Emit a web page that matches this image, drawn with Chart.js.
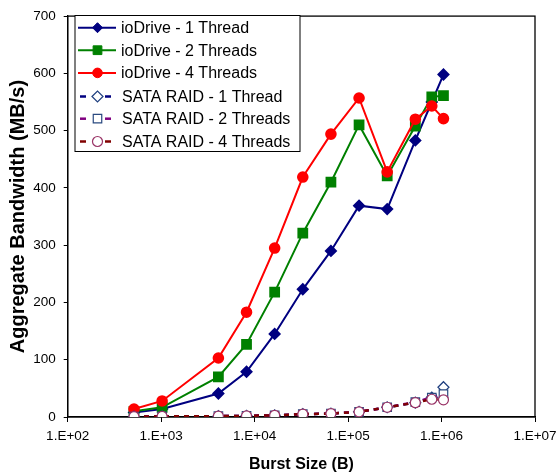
<!DOCTYPE html>
<html>
<head>
<meta charset="utf-8">
<script src="https://cdn.jsdelivr.net/npm/chart.js@4.4.0/dist/chart.umd.min.js"></script>
<style>
html,body{margin:0;padding:0;background:#fff;}
#wrap{width:556px;height:474px;position:relative;}
</style>
</head>
<body>
<div id="wrap"><canvas id="c" width="556" height="474"></canvas></div>
<script>
const burstSizes = [512, 1024, 4096, 8192, 16384, 32768, 65536, 131072, 262144, 524288, 786432, 1048576];
const ioDrive1 = [8, 14, 41, 79, 145, 223, 290, 369, 363, 483, 550, 598];
const ioDrive2 = [10, 17, 70, 127, 218, 321, 410, 510, 421, 508, 559, 561];
const ioDrive4 = [14, 28, 103, 183, 295, 419, 494, 557, 428, 520, 543, 521];
const sata1 = [0.5, 1, 1.5, 2, 3, 5, 6, 9, 17, 25, 34, 52];
const sata2 = [0.5, 1, 1.5, 2, 3, 5, 6, 9, 17, 26, 34, 40];
const sata4 = [0.5, 1, 1.5, 2, 3, 5, 6, 9, 17, 25, 31, 30];
const seriesLabels = ['ioDrive - 1 Thread','ioDrive - 2 Threads','ioDrive - 4 Threads','SATA RAID - 1 Thread','SATA RAID - 2 Threads','SATA RAID - 4 Threads'];
const xTickValues = [1e2, 1e3, 1e4, 1e5, 1e6, 1e7];
const yTickValues = [0, 100, 200, 300, 400, 500, 600, 700];

const FONT = "'Liberation Sans', Arial, sans-serif";
const pts = arr => arr.map((v, i) => ({x: burstSizes[i], y: v}));

const datasets = [
  {label: seriesLabels[0], data: pts(ioDrive1), borderColor:'#000080', backgroundColor:'#000080', pointStyle:'rectRot', pointRadius:5, pointBorderColor:'#000080', pointBackgroundColor:'#000080', borderWidth:2, order:6},
  {label: seriesLabels[1], data: pts(ioDrive2), borderColor:'#008000', backgroundColor:'#008000', pointStyle:'rect', pointRadius:6.2, pointBorderColor:'#008000', pointBackgroundColor:'#008000', borderWidth:2, order:5},
  {label: seriesLabels[2], data: pts(ioDrive4), borderColor:'#ff0000', backgroundColor:'#ff0000', pointStyle:'circle', pointRadius:4.8, pointBorderColor:'#ff0000', pointBackgroundColor:'#ff0000', borderWidth:2, order:4},
  {label: seriesLabels[3], data: pts(sata1), borderColor:'#000080', backgroundColor:'#ffffff', pointStyle:'rectRot', pointRadius:5.5, pointBorderColor:'#1f3f7f', pointBackgroundColor:'#ffffff', pointBorderWidth:1.2, borderWidth:2.5, borderDash:[5,5], order:3},
  {label: seriesLabels[4], data: pts(sata2), borderColor:'#800080', backgroundColor:'#ffffff', pointStyle:'rect', pointRadius:6, pointBorderColor:'#2a4a80', pointBackgroundColor:'#ffffff', pointBorderWidth:1.2, borderWidth:2.5, borderDash:[5,5], order:2},
  {label: seriesLabels[5], data: pts(sata4), borderColor:'#800000', backgroundColor:'#ffffff', pointStyle:'circle', pointRadius:5, pointBorderColor:'#993366', pointBackgroundColor:'#ffffff', pointBorderWidth:1.2, borderWidth:2.5, borderDash:[5,5], order:1}
];
datasets.forEach(d => { d.tension = 0; d.fill = false; d.pointHoverRadius = d.pointRadius; });

const frame = {
  id: 'frame',
  beforeDatasetsDraw(chart) {
    const {ctx, chartArea: a} = chart;
    ctx.save();
    ctx.strokeStyle = '#000';
    ctx.lineWidth = 1.3;
    ctx.strokeRect(a.left, a.top, a.right - a.left, a.bottom - a.top);
    ctx.restore();
  }
};

const legendBox = {
  id: 'legendBox',
  afterDraw(chart) {
    const ctx = chart.ctx;
    const L = 75, T = 15.5, R = 300, B = 151.5;
    ctx.save();
    ctx.fillStyle = '#fff';
    ctx.fillRect(L, T, R - L, B - T);
    ctx.strokeStyle = '#000';
    ctx.lineWidth = 1;
    ctx.strokeRect(L, T, R - L, B - T);
    const rowY = [27.7, 50.2, 72.9, 96.5, 118.7, 141.5];
    chart.data.datasets.forEach((ds, i) => {
      const y = rowY[i];
      ctx.save();
      ctx.strokeStyle = ds.borderColor;
      ctx.lineWidth = ds.borderWidth;
      if (ds.borderDash) {
        ctx.beginPath(); ctx.moveTo(80, y); ctx.lineTo(86, y); ctx.stroke();
        ctx.beginPath(); ctx.moveTo(105, y); ctx.lineTo(111, y); ctx.stroke();
      } else {
        ctx.beginPath(); ctx.moveTo(78, y); ctx.lineTo(116, y); ctx.stroke();
      }
      ctx.restore();
      ctx.save();
      ctx.fillStyle = ds.pointBackgroundColor;
      ctx.strokeStyle = ds.pointBorderColor;
      ctx.lineWidth = ds.pointBorderWidth || 1;
      Chart.helpers.drawPoint(ctx, {pointStyle: ds.pointStyle, rotation: 0, radius: ds.pointRadius, borderWidth: ctx.lineWidth}, 97.5, y);
      ctx.restore();
      ctx.fillStyle = '#000';
      ctx.font = '16px ' + FONT;
      ctx.textBaseline = 'middle';
      ctx.textAlign = 'left';
      ctx.fillText(ds.label, ds.borderDash ? 122 : 121, y + 1);
    });
    ctx.restore();
  }
};

new Chart(document.getElementById('c'), {
  type: 'line',
  data: {datasets},
  options: {
    responsive: false,
    animation: false,
    devicePixelRatio: 1,
    layout: {padding: {left: 0, right: 0, top: 12, bottom: 0}},
    plugins: {legend: {display: false}, tooltip: {enabled: false}},
    scales: {
      x: {
        type: 'logarithmic',
        min: 1e2, max: 1e7,
        afterBuildTicks: s => { s.ticks = xTickValues.map(v => ({value: v})); },
        afterFit: s => { s.height = 57; s.paddingRight = 21; s.paddingLeft = 0; },
        ticks: {
          autoSkip: false, maxRotation: 0, padding: 6, color: '#000',
          font: {family: FONT, size: 13.5},
          callback: v => '1.E+' + String(Math.round(Math.log10(v))).padStart(2, '0')
        },
        grid: {drawOnChartArea: false, drawTicks: true, tickLength: 5, color: '#000', lineWidth: 1},
        border: {display: true, color: '#000', width: 1.3},
        title: {display: true, text: 'Burst Size (B)', color: '#000', font: {family: FONT, size: 16, weight: 'bold'}, padding: {top: 4, bottom: 0}}
      },
      y: {
        type: 'linear',
        min: 0, max: 700,
        afterBuildTicks: s => { s.ticks = yTickValues.map(v => ({value: v})); },
        afterFit: s => { s.width = 67.7; },
        ticks: {padding: 8, color: '#000', font: {family: FONT, size: 13.5}},
        grid: {drawOnChartArea: false, drawTicks: true, tickLength: 4, color: '#000', lineWidth: 1},
        border: {display: true, color: '#000', width: 1.3},
        title: {display: true, text: 'Aggregate Bandwidth (MB/s)', color: '#000', font: {family: FONT, size: 20, weight: 'bold'}, padding: {top: 6, bottom: 0}}
      }
    }
  },
  plugins: [frame, legendBox]
});
</script>
</body>
</html>
